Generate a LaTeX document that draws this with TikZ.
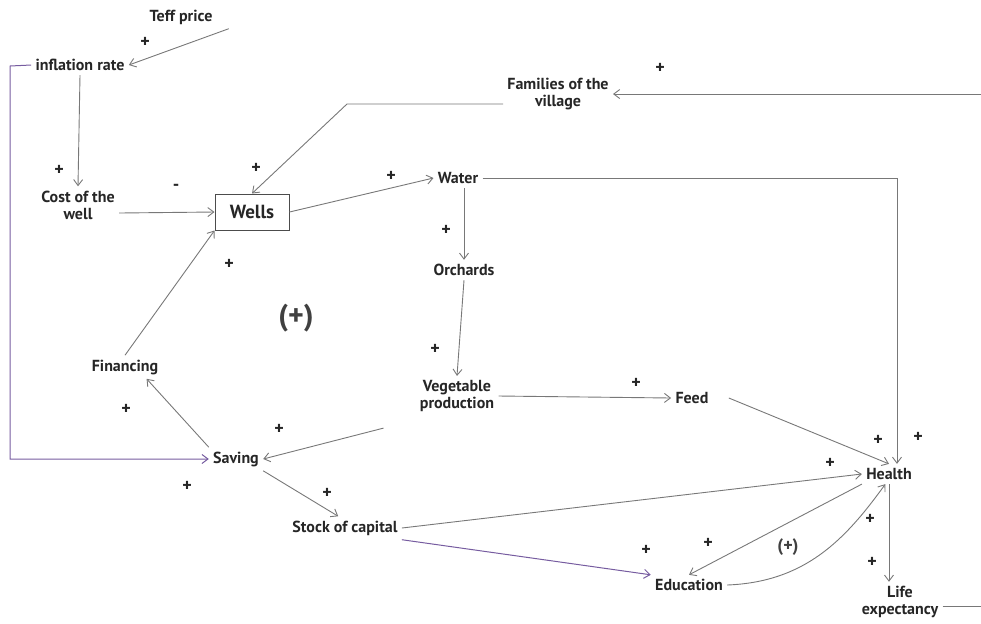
\documentclass[tikz,border=0pt]{standalone}
\usepackage{fontspec}
\setmainfont{PT Sans}
\usetikzlibrary{arrows.meta}
\definecolor{linegray}{RGB}{120,120,120}
\definecolor{loopviolet}{RGB}{118,92,160}

\begin{document}
\begin{tikzpicture}[x=0.5pt, y=-0.5pt,
    >={Straight Barb[length=3pt,width=4.5pt]},
    var/.style={font=\fontsize{8}{8.5}\selectfont\bfseries, align=center, text=black!85, inner sep=2pt},
    sign/.style={font=\fontsize{9}{9}\selectfont\bfseries, text=black!85, inner sep=0pt},
    link/.style={->, draw=linegray, line width=0.45pt},
    vlink/.style={->, draw=loopviolet, line width=0.5pt}]
  \useasboundingbox (0,0) rectangle (981,623);

  \node[var] (teff) at (181,17) {Teff price};
  \node[var] (infl) at (80,65) {inflation rate};
  \node[var] (fam) at (558,94) {Families of the\\ village};
  \node[var] (cost) at (78,205) {Cost of the\\ well};
  \node[var, draw=black!70, line width=0.5pt, minimum width=37pt, minimum height=18pt,
        font=\fontsize{9.5}{10}\selectfont\bfseries] (wells) at (252,212) {Wells};
  \node[var] (water) at (458,178) {Water};
  \node[var] (orch) at (464,270) {Orchards};
  \node[var] (veg) at (457,396) {Vegetable\\ production};
  \node[var] (feed) at (692,398) {Feed};
  \node[var] (fin) at (125,367) {Financing};
  \node[var] (saving) at (236,459) {Saving};
  \node[var] (stock) at (345,528) {Stock of capital};
  \node[var] (health) at (889,474) {Health};
  \node[var] (edu) at (689,585) {Education};
  \node[var] (life) at (900,602) {Life\\ expectancy};

  \node[font=\fontsize{15}{15}\selectfont\bfseries, text=black!75] (loopA) at (296,318) {(+)};
  \node[font=\fontsize{9}{9}\selectfont\bfseries, text=black!75] (loopB) at (788,547) {(+)};

  % polarity signs
  \foreach \n/\x/\y in {s1/145/42, s2/660/68, s3/59/170, s4/256/168, s5/391/176,
      s6/446/230, s7/229/264, s8/435/349, s9/636/383, s10/126/409, s11/279/429,
      s12/187/486, s13/327/493, s14/878/440, s15/918/437, s16/830/463,
      s17/870/519, s18/708/543, s19/646/550, s20/872/562}
    \node[sign] (\n) at (\x,\y) {+};
  \node[sign] (minus) at (176,187) {-};

  \coordinate (bendfam) at (347,104);
  \coordinate (leftup) at (10,66);
  \coordinate (rightlow) at (981,606);
  \coordinate (righttop) at (981,94);

  \draw[link] ([xshift=6pt]teff.south east) -- (infl.east);
  \draw[link] (infl.south) -- (cost.north);
  \draw[vlink] (infl.west) -- (leftup) |- (saving.west);
  \draw[link] ([yshift=-5pt]fam.west) -- (bendfam) -- (wells.north);
  \draw[link] ([yshift=-4pt]cost.east) -- (wells.west);
  \draw[link] (wells.east) -- (water.west);
  \draw[link] (water.east) -| ([xshift=4pt]health.north);
  \draw[link] (orch.north |- water.south) -- (orch.north);
  \draw[link] (orch.south) -- (veg.north);
  \draw[link] (veg.east) -- (feed.west);
  \draw[link] ([xshift=-16pt,yshift=-6pt]veg.south west) -- (saving.east);
  \draw[link] (saving.north west) -- ([xshift=-8pt]fin.south east);
  \draw[link] (fin.north) -- (wells.south west);
  \draw[link] (saving.south east) -- (stock.120);
  \draw[link] ([xshift=8pt]feed.east) -- (health.north);
  \draw[link] (stock.east) -- (health.west);
  \draw[vlink] (stock.south east) -- (edu.north west);
  \draw[link] (health.south west) -- (edu.north);
  \draw[link] (edu.east) .. controls (805,582) and (845,540) .. (health.250);
  \draw[link] (health.south) -- (health.south |- life.north);
  \draw[draw=linegray, line width=0.45pt] ([yshift=-2pt]life.east) -- (rightlow);
  \draw[link] (righttop) -- (fam.east);

\end{tikzpicture}
\end{document}
